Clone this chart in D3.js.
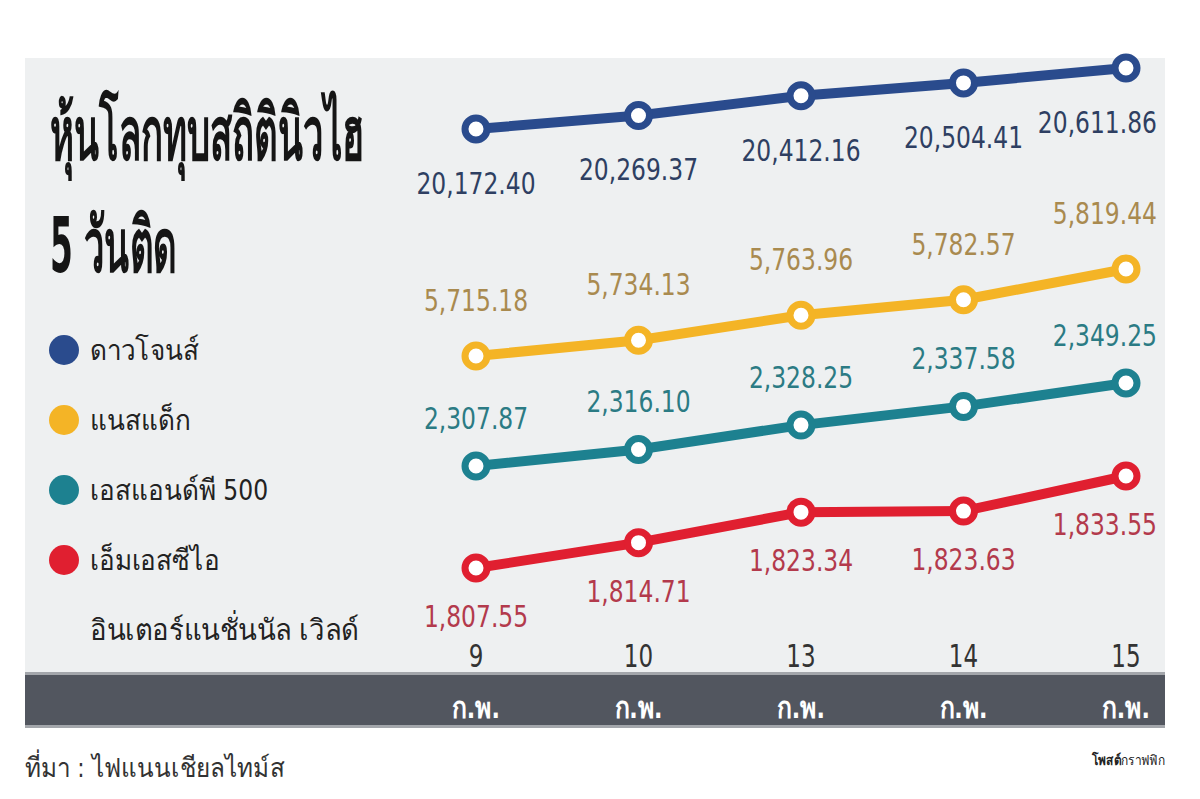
<!DOCTYPE html>
<html>
<head>
<meta charset="utf-8">
<script src="https://cdn.jsdelivr.net/npm/d3@7/dist/d3.min.js"></script>
<style>
  body { margin: 0; background: #fff; }
  svg { display: block; }
  text { font-family: "Liberation Sans Narrow", "DejaVu Sans Condensed", "Noto Sans", sans-serif; }
</style>
</head>
<body>
<div id="chart"></div>
<script>
// data
const days = ["9", "10", "13", "14", "15"];
const month = "ก.พ.";
const dowValues = [20172.40, 20269.37, 20412.16, 20504.41, 20611.86];
const nasdaqValues = [5715.18, 5734.13, 5763.96, 5782.57, 5819.44];
const spValues = [2307.87, 2316.10, 2328.25, 2337.58, 2349.25];
const msciValues = [1807.55, 1814.71, 1823.34, 1823.63, 1833.55];
const seriesNames = ["ดาวโจนส์", "แนสแด็ก", "เอสแอนด์พี 500", "เอ็มเอสซีไอ"];
const msciNameLine2 = "อินเตอร์แนชั่นนัล เวิลด์";
const titleLines = ["หุ้นโลกทุบสถิตินิวไฮ", "5 วันติด"];
const sourceText = "ที่มา : ไฟแนนเชียลไทม์ส";

const width = 1200, height = 799;
const panel = { x: 25, y: 58, w: 1140, h: 614 };

// each series gets its own vertical band
const series = [
  { name: seriesNames[0], values: dowValues, color: "#2a4b8d", labelColor: "#2e3f62", band: [129, 68], labelDy: 54 },
  { name: seriesNames[1], values: nasdaqValues, color: "#f4b426", labelColor: "#a98a4f", band: [356, 269], labelDy: -56 },
  { name: seriesNames[2], values: spValues, color: "#1d8190", labelColor: "#2b7b84", band: [466, 383], labelDy: -48 },
  { name: seriesNames[3], values: msciValues, color: "#e01f30", labelColor: "#b33a4c", band: [568, 476], labelDy: 48 }
];

// narrow the fallback fonts so text takes the reference's width
const squeeze = (tx, ty, sx) => `translate(${tx},${ty}) scale(${sx},1)`;
const labelScale = 0.84;

const svg = d3.select("#chart").append("svg")
    .attr("width", width)
    .attr("height", height);

// panel background
svg.append("rect")
    .attr("x", panel.x).attr("y", panel.y)
    .attr("width", panel.w).attr("height", panel.h)
    .attr("fill", "#eef0f1");

// dark date bar
svg.append("rect")
    .attr("x", panel.x).attr("y", 672)
    .attr("width", panel.w).attr("height", 56)
    .attr("fill", "#a3a6ab");
svg.append("rect")
    .attr("x", panel.x).attr("y", 675)
    .attr("width", panel.w).attr("height", 50)
    .attr("fill", "#52565f");

const x = d3.scalePoint()
    .domain(days)
    .range([476, 1126]);

const fmt = d3.format(",.2f");

// lines
series.forEach(s => {
  const y = d3.scaleLinear()
      .domain(d3.extent(s.values))
      .range(s.band);

  const pts = s.values.map((v, i) => ({ day: days[i], value: v }));

  const line = d3.line()
      .x(d => x(d.day))
      .y(d => y(d.value));

  const g = svg.append("g");

  g.append("path")
      .datum(pts)
      .attr("d", line)
      .attr("fill", "none")
      .attr("stroke", s.color)
      .attr("stroke-width", 10);

  g.selectAll("circle")
    .data(pts)
    .join("circle")
      .attr("cx", d => x(d.day))
      .attr("cy", d => y(d.value))
      .attr("r", 11)
      .attr("fill", "#fff")
      .attr("stroke", s.color)
      .attr("stroke-width", 7);

  g.selectAll("text")
    .data(pts)
    .join("text")
      .attr("dy", "0.35em")
      .attr("text-anchor", "middle")
      .attr("fill", s.labelColor)
      .style("font-size", "31px")
      .text(d => fmt(d.value))
      .each(function(d) {
        // keep labels inside the panel's right edge
        const half = this.getComputedTextLength() * labelScale / 2;
        const cx = Math.min(x(d.day), panel.x + panel.w - 8 - half);
        d3.select(this).attr("transform", squeeze(cx, y(d.value) + s.labelDy, labelScale));
      });
});

// title
svg.selectAll(".title")
  .data(titleLines)
  .join("text")
    .attr("class", "title")
    .attr("transform", (d, i) => squeeze(50, 160 + i * 112, 0.48))
    .attr("fill", "#151515")
    .style("font-size", "76px")
    .style("font-weight", "bold")
    .text(d => d);

// legend
const legend = svg.selectAll(".legend")
  .data(series)
  .join("g")
    .attr("class", "legend")
    .attr("transform", (d, i) => `translate(64,${350 + i * 70})`);

legend.append("circle")
    .attr("r", 15)
    .attr("fill", d => d.color);

legend.append("text")
    .attr("transform", squeeze(26, 0, 0.9))
    .attr("dy", "0.35em")
    .attr("fill", "#222")
    .style("font-size", "29px")
    .text(d => d.name);

svg.append("text")
    .attr("transform", squeeze(90, 630, 0.95))
    .attr("dy", "0.35em")
    .attr("fill", "#222")
    .style("font-size", "29px")
    .text(msciNameLine2);

// x axis labels
svg.selectAll(".day")
  .data(days)
  .join("text")
    .attr("class", "day")
    .attr("transform", d => squeeze(x(d), 656, 0.8))
    .attr("dy", "0.35em")
    .attr("text-anchor", "middle")
    .attr("fill", "#333")
    .style("font-size", "32px")
    .text(d => d);

svg.selectAll(".month")
  .data(days)
  .join("text")
    .attr("class", "month")
    .attr("transform", d => squeeze(x(d), 708, 0.85))
    .attr("dy", "0.35em")
    .attr("text-anchor", "middle")
    .attr("fill", "#fff")
    .style("font-size", "29px")
    .style("font-weight", "bold")
    .text(month);

// footer
svg.append("text")
    .attr("transform", squeeze(25, 768, 0.9))
    .attr("dy", "0.35em")
    .attr("fill", "#333")
    .style("font-size", "27px")
    .text(sourceText);

const credit = svg.append("text")
    .attr("transform", squeeze(1165, 760, 0.85))
    .attr("dy", "0.35em")
    .attr("text-anchor", "end")
    .attr("fill", "#222")
    .style("font-size", "14px");
credit.append("tspan").style("font-weight", "bold").text("โพสต์");
credit.append("tspan").text("กราฟฟิก");
</script>
</body>
</html>
